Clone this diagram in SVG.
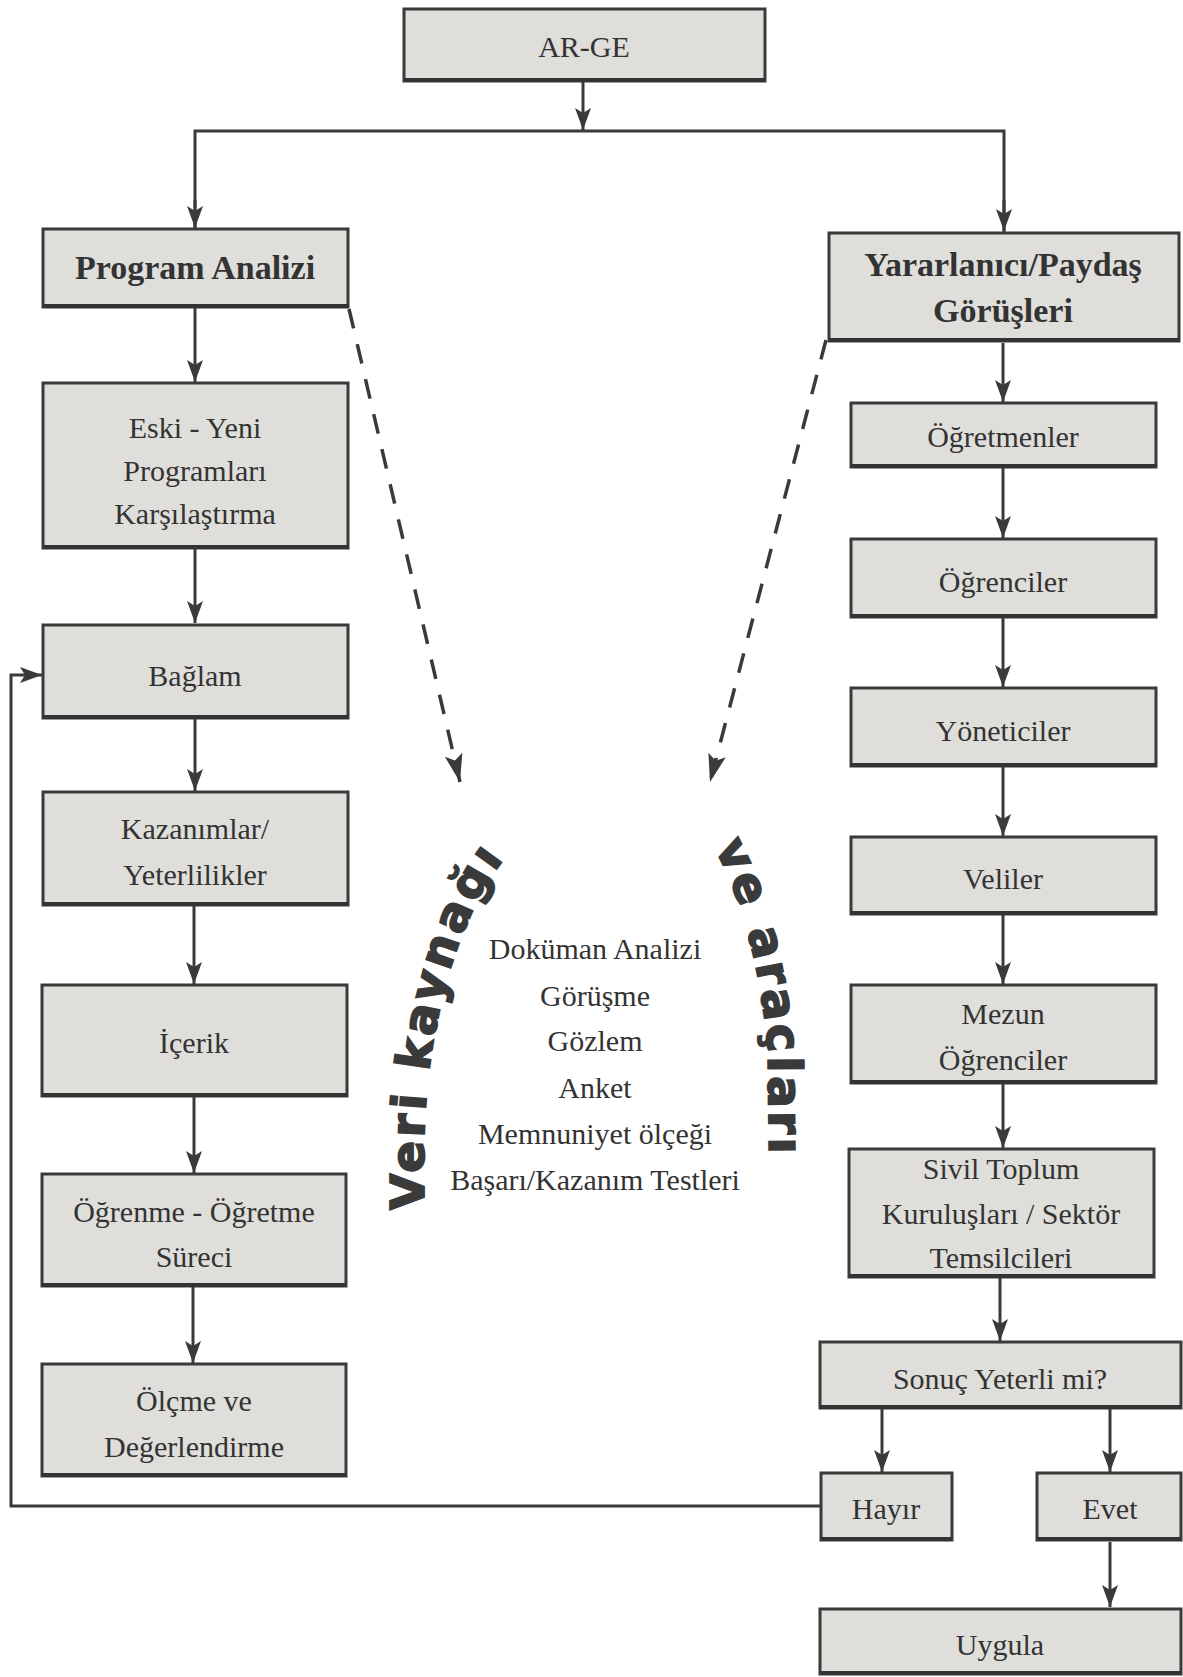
<svg xmlns="http://www.w3.org/2000/svg" width="1183" height="1677" viewBox="0 0 1183 1677">
<style>
.box{fill:#dfdedb;stroke:#3a3a3a;stroke-width:3}
.sh{stroke:#333;stroke-width:4;fill:none}
.t{font-family:"Liberation Serif",serif;font-size:30px;fill:#333;text-anchor:middle}
.b{font-family:"Liberation Serif",serif;font-size:34px;font-weight:bold;fill:#333;text-anchor:middle}
.ln{stroke:#3a3a3a;stroke-width:3;fill:none}
.dash{stroke:#3a3a3a;stroke-width:3.5;fill:none;stroke-dasharray:20 16}
.arc{font-family:"DejaVu Sans",sans-serif;font-weight:bold;font-size:47px;letter-spacing:3.4px;fill:#3a3a3a;stroke:#3a3a3a;stroke-width:1.8}
</style>
<defs>
<marker id="ah" markerUnits="userSpaceOnUse" markerWidth="24" markerHeight="18" refX="22" refY="9" orient="auto">
<path d="M0,1 L22,9 L0,17 L5,9 Z" fill="#3a3a3a"/>
</marker>
<marker id="dh" markerUnits="userSpaceOnUse" markerWidth="30" markerHeight="20" refX="28" refY="10" orient="auto">
<path d="M0,1 L28,10 L0,19 L6,10 Z" fill="#3a3a3a"/>
</marker>
<path id="arcL" d="M424 1210 L424 1150 A174 354 0 0 1 540 823"/>
<path id="arcR" d="M714 848 C739 890 760 962 768 1050 L770 1230"/>
</defs>

<g id="connectors">
<line class="ln" x1="583" y1="82" x2="583" y2="130" marker-end="url(#ah)"/>
<polyline class="ln" points="195,229 195,131 1004,131 1004,232"/>
<line class="ln" x1="195" y1="200" x2="195" y2="228" marker-end="url(#ah)"/>
<line class="ln" x1="1004" y1="200" x2="1004" y2="231" marker-end="url(#ah)"/>
<line class="ln" x1="195" y1="308" x2="195" y2="382" marker-end="url(#ah)"/>
<line class="ln" x1="195" y1="549" x2="195" y2="623" marker-end="url(#ah)"/>
<line class="ln" x1="195" y1="719" x2="195" y2="791" marker-end="url(#ah)"/>
<line class="ln" x1="194" y1="906" x2="194" y2="984" marker-end="url(#ah)"/>
<line class="ln" x1="194" y1="1097" x2="194" y2="1173" marker-end="url(#ah)"/>
<line class="ln" x1="193" y1="1287" x2="193" y2="1363" marker-end="url(#ah)"/>
<line class="ln" x1="1003" y1="343" x2="1003" y2="402" marker-end="url(#ah)"/>
<line class="ln" x1="1003" y1="468" x2="1003" y2="538" marker-end="url(#ah)"/>
<line class="ln" x1="1003" y1="618" x2="1003" y2="687" marker-end="url(#ah)"/>
<line class="ln" x1="1003" y1="767" x2="1003" y2="836" marker-end="url(#ah)"/>
<line class="ln" x1="1003" y1="915" x2="1003" y2="984" marker-end="url(#ah)"/>
<line class="ln" x1="1003" y1="1084" x2="1003" y2="1148" marker-end="url(#ah)"/>
<line class="ln" x1="1000" y1="1278" x2="1000" y2="1341" marker-end="url(#ah)"/>
<line class="ln" x1="882" y1="1409" x2="882" y2="1472" marker-end="url(#ah)"/>
<line class="ln" x1="1110" y1="1409" x2="1110" y2="1472" marker-end="url(#ah)"/>
<line class="ln" x1="1110" y1="1542" x2="1110" y2="1607" marker-end="url(#ah)"/>
<polyline class="ln" points="820,1506 11,1506 11,675 42,675" marker-end="url(#ah)"/>
<line class="dash" x1="349" y1="309" x2="460" y2="782" marker-end="url(#dh)"/>
<line class="dash" x1="826" y1="340" x2="710" y2="782" marker-end="url(#dh)"/>
</g>

<g id="n-arge"><rect class="box" x="404" y="9" width="361" height="72"/><line class="sh" x1="404" y1="80" x2="765" y2="80"/><text class="t" x="584" y="57">AR-GE</text></g>
<g id="n-program"><rect class="box" x="43" y="229" width="305" height="78"/><line class="sh" x1="43" y1="306" x2="348" y2="306"/><text class="b" x="195" y="279">Program Analizi</text></g>
<g id="n-paydas"><rect class="box" x="829" y="233" width="350" height="108"/><line class="sh" x1="829" y1="340" x2="1179" y2="340"/><text class="b" x="1003" y="276">Yararlanıcı/Paydaş</text><text class="b" x="1003" y="322">Görüşleri</text></g>

<g id="n-eski"><rect class="box" x="43" y="383" width="305" height="165"/><line class="sh" x1="43" y1="547" x2="348" y2="547"/><text class="t" x="195" y="438">Eski - Yeni</text><text class="t" x="195" y="481">Programları</text><text class="t" x="195" y="524">Karşılaştırma</text></g>
<g id="n-baglam"><rect class="box" x="43" y="625" width="305" height="93"/><line class="sh" x1="43" y1="717" x2="348" y2="717"/><text class="t" x="195" y="686">Bağlam</text></g>
<g id="n-kazanim"><rect class="box" x="43" y="792" width="305" height="113"/><line class="sh" x1="43" y1="904" x2="348" y2="904"/><text class="t" x="195" y="839">Kazanımlar/</text><text class="t" x="195" y="885">Yeterlilikler</text></g>
<g id="n-icerik"><rect class="box" x="42" y="985" width="305" height="111"/><line class="sh" x1="42" y1="1095" x2="347" y2="1095"/><text class="t" x="194" y="1053">İçerik</text></g>
<g id="n-ogrenme"><rect class="box" x="42" y="1174" width="304" height="112"/><line class="sh" x1="42" y1="1285" x2="346" y2="1285"/><text class="t" x="194" y="1222">Öğrenme - Öğretme</text><text class="t" x="194" y="1267">Süreci</text></g>
<g id="n-olcme"><rect class="box" x="42" y="1364" width="304" height="112"/><line class="sh" x1="42" y1="1475" x2="346" y2="1475"/><text class="t" x="194" y="1411">Ölçme ve</text><text class="t" x="194" y="1457">Değerlendirme</text></g>

<g id="n-ogretmen"><rect class="box" x="851" y="403" width="305" height="64"/><line class="sh" x1="851" y1="466" x2="1156" y2="466"/><text class="t" x="1003" y="447">Öğretmenler</text></g>
<g id="n-ogrenci"><rect class="box" x="851" y="539" width="305" height="78"/><line class="sh" x1="851" y1="616" x2="1156" y2="616"/><text class="t" x="1003" y="592">Öğrenciler</text></g>
<g id="n-yonetici"><rect class="box" x="851" y="688" width="305" height="78"/><line class="sh" x1="851" y1="765" x2="1156" y2="765"/><text class="t" x="1003" y="741">Yöneticiler</text></g>
<g id="n-veli"><rect class="box" x="851" y="837" width="305" height="77"/><line class="sh" x1="851" y1="913" x2="1156" y2="913"/><text class="t" x="1003" y="889">Veliler</text></g>
<g id="n-mezun"><rect class="box" x="851" y="985" width="305" height="98"/><line class="sh" x1="851" y1="1082" x2="1156" y2="1082"/><text class="t" x="1003" y="1024">Mezun</text><text class="t" x="1003" y="1070">Öğrenciler</text></g>
<g id="n-sivil"><rect class="box" x="849" y="1149" width="305" height="128"/><line class="sh" x1="849" y1="1276" x2="1154" y2="1276"/><text class="t" x="1001" y="1179">Sivil Toplum</text><text class="t" x="1001" y="1224">Kuruluşları / Sektör</text><text class="t" x="1001" y="1268">Temsilcileri</text></g>
<g id="n-sonuc"><rect class="box" x="820" y="1342" width="361" height="66"/><line class="sh" x1="820" y1="1407" x2="1181" y2="1407"/><text class="t" x="1000" y="1389">Sonuç Yeterli mi?</text></g>
<g id="n-hayir"><rect class="box" x="821" y="1473" width="131" height="67"/><line class="sh" x1="821" y1="1539" x2="952" y2="1539"/><text class="t" x="886" y="1519">Hayır</text></g>
<g id="n-evet"><rect class="box" x="1037" y="1473" width="144" height="67"/><line class="sh" x1="1037" y1="1539" x2="1181" y2="1539"/><text class="t" x="1110" y="1519">Evet</text></g>
<g id="n-uygula"><rect class="box" x="820" y="1609" width="361" height="65"/><line class="sh" x1="820" y1="1673" x2="1181" y2="1673"/><text class="t" x="1000" y="1655">Uygula</text></g>

<g id="veri">
<text class="arc"><textPath href="#arcL">Veri kaynağı</textPath></text>
<text class="arc"><textPath href="#arcR">ve araçları</textPath></text>
<text class="t" x="595" y="959">Doküman Analizi</text>
<text class="t" x="595" y="1006">Görüşme</text>
<text class="t" x="595" y="1051">Gözlem</text>
<text class="t" x="595" y="1098">Anket</text>
<text class="t" x="595" y="1144">Memnuniyet ölçeği</text>
<text class="t" x="595" y="1190">Başarı/Kazanım Testleri</text>
</g>
</svg>
